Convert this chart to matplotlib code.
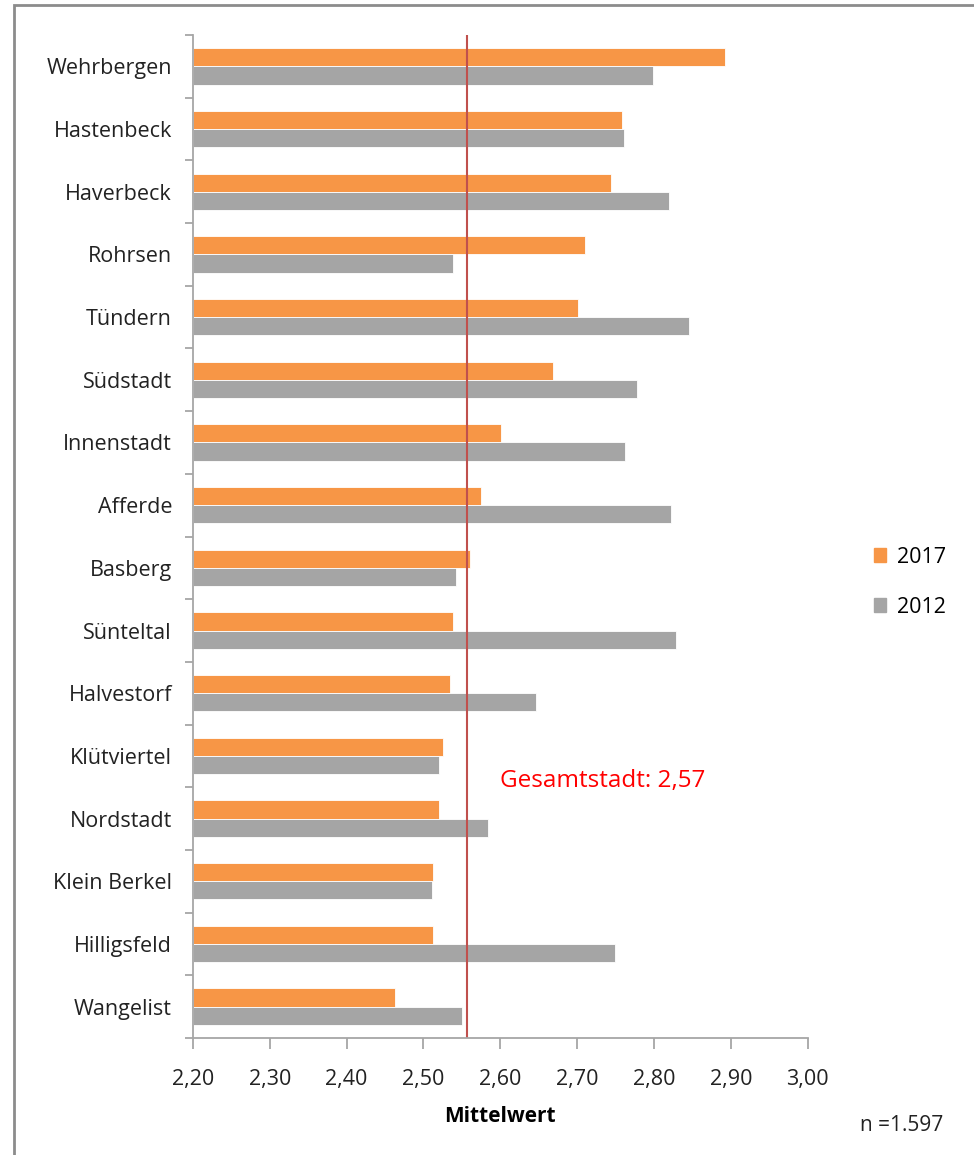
import matplotlib
matplotlib.use('Agg')
import matplotlib.pyplot as plt
import numpy as np
from matplotlib.patches import Rectangle, Patch

# data (top to bottom)
stadtteile = ['Wehrbergen', 'Hastenbeck', 'Haverbeck', 'Rohrsen', 'Tündern', 'Südstadt',
              'Innenstadt', 'Afferde', 'Basberg', 'Sünteltal', 'Halvestorf', 'Klütviertel',
              'Nordstadt', 'Klein Berkel', 'Hilligsfeld', 'Wangelist']
werte_2017 = [2.892, 2.758, 2.744, 2.710, 2.701, 2.668, 2.601, 2.575, 2.560, 2.538,
              2.534, 2.525, 2.520, 2.513, 2.512, 2.463]
werte_2012 = [2.798, 2.761, 2.819, 2.538, 2.846, 2.778, 2.762, 2.822, 2.542, 2.828,
              2.647, 2.520, 2.584, 2.511, 2.749, 2.550]
gesamt_linie = 2.556
gesamt_text = 'Gesamtstadt: 2,57'
x_ticks = [2.2, 2.3, 2.4, 2.5, 2.6, 2.7, 2.8, 2.9, 3.0]

orange = '#F79646'
grau = '#A5A5A5'
achse = '#A6A6A6'

plt.rcParams['font.family'] = ['Open Sans', 'DejaVu Sans']

fig = plt.figure(figsize=(9.74, 11.55), dpi=100)
ax = fig.add_axes([0.198, 1 - 1038 / 1155, 0.6314, (1038 - 35) / 1155])

# outer frame like the source screenshot
fig.patches.append(Rectangle((14 / 974, -0.1), 1.2, 1 - 5 / 1155 + 0.1,
                             transform=fig.transFigure, fill=False,
                             edgecolor='#8c8c8c', linewidth=2))

y = np.arange(len(stadtteile))
h = 0.29
ax.barh(y - h / 2, np.array(werte_2017) - 2.2, left=2.2, height=h, color=orange,
        edgecolor='white', linewidth=0.6)
ax.barh(y + h / 2, np.array(werte_2012) - 2.2, left=2.2, height=h, color=grau,
        edgecolor='white', linewidth=0.6)

ax.axvline(gesamt_linie, color='#C0504D', linewidth=1.5)
ax.text(2.599, 11.4, gesamt_text, color='red', fontsize=17.5, va='center', ha='left')

ax.set_xlim(2.2, 3.0)
ax.set_ylim(len(stadtteile) - 0.5, -0.5)

ax.set_xticks(x_ticks)
ax.set_xticklabels([f'{v:.2f}'.replace('.', ',') for v in x_ticks], fontsize=15.5, color='#222222')
ax.set_yticks(y)
ax.set_yticklabels(stadtteile, fontsize=15.5, color='#222222')
ax.set_yticks(np.arange(len(stadtteile) + 1) - 0.5, minor=True)
ax.tick_params(axis='y', which='major', length=0, pad=15)
ax.tick_params(axis='y', which='minor', length=6, color=achse, width=1.3)
ax.tick_params(axis='x', length=8, color=achse, width=1.3, pad=14)

for s in ['top', 'right']:
    ax.spines[s].set_visible(False)
for s in ['left', 'bottom']:
    ax.spines[s].set_color(achse)
    ax.spines[s].set_linewidth(1.3)

ax.set_xlabel('Mittelwert', fontsize=15, fontweight='bold', labelpad=12)

handles = [Patch(color=orange, label='2017'), Patch(color=grau, label='2012')]
fig.legend(handles=handles, loc='center left', bbox_to_anchor=(0.877, 0.496),
           frameon=False, fontsize=15.5, handlelength=0.6, handleheight=0.6,
           labelspacing=1.35, handletextpad=0.5)

fig.text(0.883, 0.021, 'n =1.597', fontsize=15, color='#222222')

fig.savefig('out.png', dpi=100)
